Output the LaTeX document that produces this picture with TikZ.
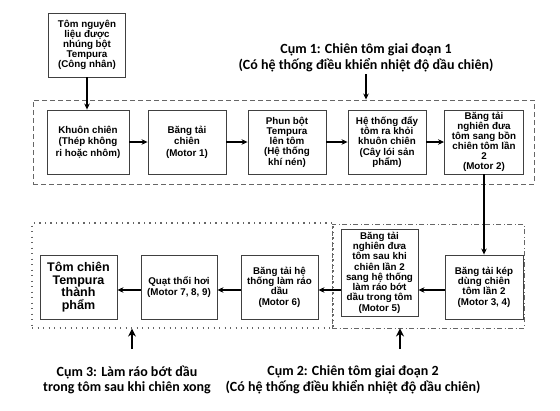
\documentclass[tikz,border=0pt]{standalone}
\usepackage{fontspec}
\setmainfont{Liberation Sans}
\newfontfamily\titlefont{Carlito}
\usetikzlibrary{arrows.meta}
\begin{document}
\begin{tikzpicture}[x=1pt,y=1pt,
  box/.style={draw=black!75, line width=0.9pt, fill=white, align=center,
    font=\bfseries\fontsize{9.8}{10.3}\selectfont, inner sep=1pt, minimum height=64pt},
  arr/.style={-{Stealth[length=6pt,width=5.5pt]}, line width=1.3pt},
  bigarr/.style={-{Stealth[length=8pt,width=8pt]}, line width=2.4pt},
  lbl/.style={align=center, font=\titlefont\bfseries\fontsize{14}{15.5}\selectfont, inner sep=0pt},
  frame/.style={draw=black!60, line width=0.9pt, inner sep=0pt}]
\useasboundingbox (0,0) rectangle (560,-410);
% frames
\node[frame, dashed, dash pattern=on 5pt off 3pt, minimum width=501pt, minimum height=84pt] (f1) at (283.5,-142) {};
\node[frame, dash pattern=on 5pt off 2.5pt on 1pt off 2.5pt, minimum width=192pt, minimum height=104pt] (f2) at (428,-276) {};
\node[frame, line width=1.2pt, dash pattern=on 1.2pt off 4.3pt, minimum width=301pt, minimum height=105pt] (f3) at (182.5,-275.5) {};
% top
\node[box, minimum width=77pt, font=\bfseries\fontsize{9.8}{10}\selectfont] (t0) at (87,-45) {Tôm nguyên\\liệu được\\nhúng bột\\Tempura\\(Công nhân)};
% row 1
\node[box, minimum width=82pt, font=\bfseries\fontsize{9.8}{11.5}\selectfont] (a1) at (88,-142) {Khuôn chiên\\(Thép không\\ri hoặc nhôm)};
\node[box, minimum width=78pt, font=\bfseries\fontsize{9.8}{11.5}\selectfont] (a2) at (187,-142) {Băng tải\\chiên\\(Motor 1)};
\node[box, minimum width=78pt] (a3) at (287,-142) {Phun bột\\Tempura\\lên tôm\\(Hệ thống\\khí nén)};
\node[box, minimum width=78pt] (a4) at (387,-142) {Hệ thống đẩy\\tôm ra khỏi\\khuôn chiên\\(Cây lói sản\\phẩm)};
\node[box, minimum width=79pt, font=\bfseries\fontsize{9.8}{10}\selectfont] (a5) at (484,-142) {Băng tải\\nghiên đưa\\tôm sang bồn\\chiên tôm lần\\2\\(Motor 2)};
% row 2
\node[box, minimum width=78pt] (b1) at (484,-287) {Băng tải kép\\dùng chiên\\tôm lần 2\\(Motor 3, 4)};
\node[box, minimum width=77pt, minimum height=87pt] (b2) at (379.5,-272.5) {Băng tải\\nghiên đưa\\tôm sau khi\\chiên lần 2\\sang hệ thống\\làm ráo bớt\\dầu trong tôm\\(Motor 5)};
\node[box, minimum width=77pt] (c1) at (279.5,-287) {Băng tải hệ\\thống làm ráo\\dầu\\(Motor 6)};
\node[box, minimum width=76pt] (c2) at (179,-287) {Quạt thổi hơi\\(Motor 7, 8, 9)};
\node[box, minimum width=77pt, font=\bfseries\fontsize{12.5}{12.7}\selectfont] (c3) at (78.5,-287) {Tôm chiên\\Tempura\\thành\\phẩm};
% labels
\node[lbl] (l1) at (366,-58) {Cụm 1: Chiên tôm giai đoạn 1\\(Có hệ thống điều khiển nhiệt độ dầu chiên)};
\node[lbl] (l3) at (127,-380) {Cụm 3: Làm ráo bớt dầu\\trong tôm sau khi chiên xong};
\node[lbl] (l2) at (353,-380) {Cụm 2: Chiên tôm giai đoạn 2\\(Có hệ thống điều khiển nhiệt độ dầu chiên)};
\coordinate (l3a) at (132,-349);
\coordinate (l2a) at (400,-349);
\coordinate (l1a) at (366,-74);
% connectors
\draw[arr] (t0.south) -- (t0.south |- a1.north);
\draw[arr] (a1) -- (a2);
\draw[arr] (a2) -- (a3);
\draw[arr] (a3) -- (a4);
\draw[arr] (a4) -- (a5);
\draw[arr] (a5.south) -- (b1.north);
\draw[arr] ([yshift=-3pt]b1.west) -- ([yshift=-3pt]b1.west -| b2.east);
\draw[arr] ([yshift=-3pt]b1.west -| b2.west) -- ([yshift=-3pt]c1.east);
\draw[arr] ([yshift=-3pt]c1.west) -- ([yshift=-3pt]c2.east);
\draw[arr] ([yshift=-3pt]c2.west) -- ([yshift=-3pt]c3.east);
\draw[arr] (l1a) -- (l1a |- f1.north);
\draw[bigarr] (l3a) -- (l3a |- f3.south);
\draw[bigarr] (l2a) -- (l2a |- f2.south);
\end{tikzpicture}
\end{document}
